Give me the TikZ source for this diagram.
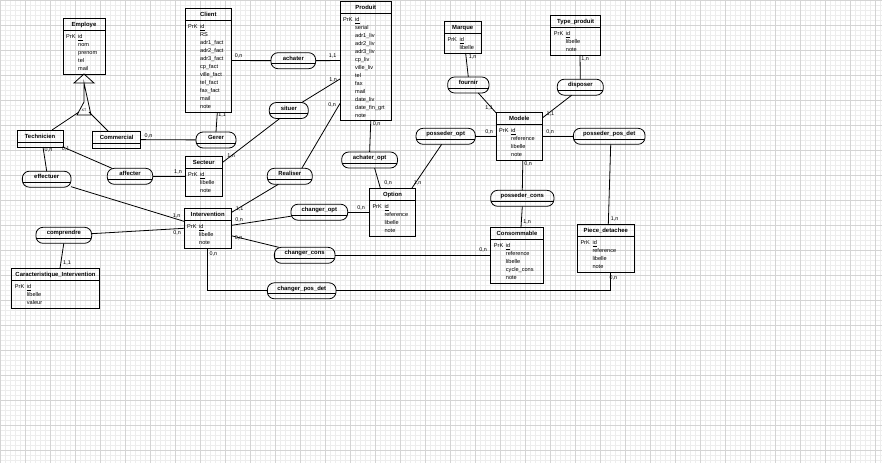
\documentclass[tikz,border=0pt]{standalone}
\usepackage{fontspec}
\setmainfont{Liberation Sans}
\usetikzlibrary{calc}

\begin{document}
\begin{tikzpicture}[x=1pt,y=-1pt,
  mineur/.style={gray!14,line width=0.4pt},
  majeur/.style={gray!34,line width=0.5pt},
  lien/.style={line width=0.8pt},
  entite/.style={draw,line width=0.8pt,inner sep=0,outer sep=0,
    path picture={\draw[line width=0.8pt] ([yshift=-12pt]path picture bounding box.north west) -- ([yshift=-12pt]path picture bounding box.north east);}},
  assoc/.style={draw,line width=0.8pt,rounded corners=7pt,inner sep=0,outer sep=0,minimum height=16,
    path picture={\draw[line width=0.8pt] ([yshift=-11pt]path picture bounding box.north west) -- ([yshift=-11pt]path picture bounding box.north east);}},
  titre/.style={label={[font=\bfseries\fontsize{5.9}{7}\selectfont,inner sep=0,anchor=base,yshift=-8.1pt]north:#1}},
  nomassoc/.style={label={[font=\bfseries\fontsize{5.9}{7}\selectfont,inner sep=0,anchor=base,yshift=-7.6pt]north:#1}},
  attr/.style={font=\fontsize{5.6}{8}\selectfont,align=left,anchor=north west,inner sep=0},
  card/.style={font=\fontsize{5.4}{6}\selectfont,inner sep=0}]
\useasboundingbox (0,0) rectangle (882,463);
% grille
\foreach \i in {0,5,...,880} \draw[mineur] (\i,0) -- (\i,463);
\foreach \j in {0,5,...,460} \draw[mineur] (0,\j) -- (882,\j);
\foreach \i in {0,25,...,875} \draw[majeur] (\i,0) -- (\i,463);
\foreach \j in {0,25,...,450} \draw[majeur] (0,\j) -- (882,\j);

% entites
\node[entite,titre=Employe,minimum width=42,minimum height=56] (employe) at (84,46) {};
\node[attr] (employe-cle) at ($(employe.north west)+(3,16)$) {PrK};
\node[attr] (employe-att) at ($(employe.north west)+(15,16)$) {\underline{id}\\nom\\prenom\\tel\\mail};
\node[entite,titre=Technicien,minimum width=46,minimum height=17] (technicien) at (40,138.5) {};
\node[entite,titre=Commercial,minimum width=48,minimum height=17] (commercial) at (116.7,139.5) {};
\node[entite,titre=Client,minimum width=46.7,minimum height=104] (client) at (208.3,60.5) {};
\node[attr] (client-cle) at ($(client.north west)+(3,16)$) {PrK};
\node[attr] (client-att) at ($(client.north west)+(15,16)$) {\underline{id}\\RS\\adr1\_fact\\adr2\_fact\\adr3\_fact\\cp\_fact\\ville\_fact\\tel\_fact\\fax\_fact\\mail\\note};
\node[entite,titre=Produit,minimum width=51.7,minimum height=119] (produit) at (365.8,60.5) {};
\node[attr] (produit-cle) at ($(produit.north west)+(3,16)$) {PrK};
\node[attr] (produit-att) at ($(produit.north west)+(15,16)$) {\underline{id}\\serial\\adr1\_liv\\adr2\_liv\\adr3\_liv\\cp\_liv\\ville\_liv\\tel\\fax\\mail\\date\_liv\\date\_fin\_grt\\note};
\node[entite,titre=Marque,minimum width=36.7,minimum height=32] (marque) at (462.7,37.5) {};
\node[attr] (marque-cle) at ($(marque.north west)+(3,16)$) {PrK};
\node[attr] (marque-att) at ($(marque.north west)+(15,16)$) {\underline{id}\\libelle};
\node[entite,titre=Type\_produit,minimum width=50,minimum height=40] (typeproduit) at (575.7,35) {};
\node[attr] (typeproduit-cle) at ($(typeproduit.north west)+(3,16)$) {PrK};
\node[attr] (typeproduit-att) at ($(typeproduit.north west)+(15,16)$) {\underline{id}\\libelle\\note};
\node[entite,titre=Modele,minimum width=46.7,minimum height=48] (modele) at (519.3,136.7) {};
\node[attr] (modele-cle) at ($(modele.north west)+(3,16)$) {PrK};
\node[attr] (modele-att) at ($(modele.north west)+(15,16)$) {\underline{id}\\reference\\libelle\\note};
\node[entite,titre=Secteur,minimum width=37.7,minimum height=40] (secteur) at (203.8,176.3) {};
\node[attr] (secteur-cle) at ($(secteur.north west)+(3,16)$) {PrK};
\node[attr] (secteur-att) at ($(secteur.north west)+(15,16)$) {\underline{id}\\libelle\\note};
\node[entite,titre=Intervention,minimum width=47.7,minimum height=40] (intervention) at (207.8,228.3) {};
\node[attr] (intervention-cle) at ($(intervention.north west)+(3,16)$) {PrK};
\node[attr] (intervention-att) at ($(intervention.north west)+(15,16)$) {\underline{id}\\libelle\\note};
\node[entite,titre=Option,minimum width=46.4,minimum height=48] (option) at (392.5,212.7) {};
\node[attr] (option-cle) at ($(option.north west)+(3,16)$) {PrK};
\node[attr] (option-att) at ($(option.north west)+(15,16)$) {\underline{id}\\reference\\libelle\\note};
\node[entite,titre=Consommable,minimum width=52.6,minimum height=56] (consommable) at (517,255.3) {};
\node[attr] (consommable-cle) at ($(consommable.north west)+(3,16)$) {PrK};
\node[attr] (consommable-att) at ($(consommable.north west)+(15,16)$) {\underline{id}\\reference\\libelle\\cycle\_cons\\note};
\node[entite,titre=Piece\_detachee,minimum width=57,minimum height=48] (piece) at (605.8,248.3) {};
\node[attr] (piece-cle) at ($(piece.north west)+(3,16)$) {PrK};
\node[attr] (piece-att) at ($(piece.north west)+(15,16)$) {\underline{id}\\reference\\libelle\\note};
\node[entite,titre=Caracteristique\_Intervention,minimum width=87.6,minimum height=40] (caracteristique) at (55.5,288.3) {};
\node[attr] (caracteristique-cle) at ($(caracteristique.north west)+(3,16)$) {PrK};
\node[attr] (caracteristique-att) at ($(caracteristique.north west)+(15,16)$) {\underline{id}\\libelle\\valeur};

% associations
\node[assoc,nomassoc=achater,minimum width=44.7] (achater) at (293.3,60.7) {};
\node[assoc,nomassoc=situer,minimum width=39] (situer) at (288.8,110.5) {};
\node[assoc,nomassoc=Gerer,minimum width=40] (gerer) at (216,140) {};
\node[assoc,nomassoc=achater\_opt,minimum width=55.8] (achateropt) at (369.6,160) {};
\node[assoc,nomassoc=Realiser,minimum width=45] (realiser) at (289.8,176.3) {};
\node[assoc,nomassoc=changer\_opt,minimum width=56.7] (changeropt) at (319.3,212.2) {};
\node[assoc,nomassoc=fournir,minimum width=41.3] (fournir) at (468.3,85) {};
\node[assoc,nomassoc=disposer,minimum width=46] (disposer) at (580.3,87.2) {};
\node[assoc,nomassoc=posseder\_opt,minimum width=59.3] (possederopt) at (445.7,136.3) {};
\node[assoc,nomassoc=posseder\_pos\_det,minimum width=71.7] (possederpos) at (609.2,136.3) {};
\node[assoc,nomassoc=posseder\_cons,minimum width=63.3] (possedercons) at (522.3,198.3) {};
\node[assoc,nomassoc=effectuer,minimum width=48.7] (effectuer) at (46.7,179.2) {};
\node[assoc,nomassoc=affecter,minimum width=45.4] (affecter) at (130,176.3) {};
\node[assoc,nomassoc=comprendre,minimum width=55.7] (comprendre) at (63.8,235.3) {};
\node[assoc,nomassoc=changer\_cons,minimum width=60.7] (changercons) at (304.7,255.3) {};
\node[assoc,nomassoc=changer\_pos\_det,minimum width=68.7] (changerpos) at (301.7,290.8) {};

% heritage
\draw[lien] (employe.south) -- ++(-10,9) -- ++(20,0) -- cycle;
\draw[lien] ($(employe.south)+(0,9)$) -- ++(0,19) coordinate (xt) -- ++(-7,13) -- ++(14,0) -- cycle;
\node[card,font=\fontsize{3.6}{4}\selectfont] (xt-texte) at ($(xt)+(0,8.5)$) {XT};
\draw[lien] ($(xt)+(-5,10)$) -- ([xshift=12pt]technicien.north);
\draw[lien] ($(xt)+(5,10)$) -- ([xshift=-8.7pt]commercial.north);

% liens
\draw[lien] (client) -- (achater);
\draw[lien] (achater) -- (produit);
\draw[lien] (situer) -- ([yshift=-18.5pt]produit.west);
\draw[lien] ([xshift=-9pt]situer.south) -- ([yshift=14pt]secteur.east);
\draw[lien] ([xshift=9pt]client.south) -- (gerer.north);
\draw[lien] (commercial) -- (gerer);
\draw[lien] ([xshift=3pt]technicien.south) -- (effectuer.north);
\draw[lien] (technicien.south east) -- ([xshift=-18pt]affecter.north);
\draw[lien] (affecter) -- (secteur);
\draw[lien] (effectuer) -- ([yshift=7pt]intervention.west);
\draw[lien] (comprendre) -- (intervention.west);
\draw[lien] (comprendre.south) -- ([xshift=4.5pt]caracteristique.north);
\draw[lien] ([xshift=-11.5pt]realiser.south) -- ([yshift=16pt]intervention.east);
\draw[lien] ([xshift=12pt]realiser.north) -- ([yshift=-43pt]produit.west);
\draw[lien] ([yshift=-4pt]changeropt.west) -- ([yshift=3pt]intervention.east);
\draw[lien] (changeropt) -- (option);
\draw[lien] ([xshift=-26pt]changercons.north) -- ([yshift=-7.5pt]intervention.east);
\draw[lien] (changercons) -- (consommable.west);
\draw[lien] (intervention.south) |- (changerpos.west);
\draw[lien] (changerpos.east) -| ([xshift=5pt]piece.south);
\draw[lien] ([xshift=5pt]produit.south) -- (achateropt.north);
\draw[lien] ([xshift=5pt]achateropt.south) -- ([xshift=-12pt]option.north);
\draw[lien] ([xshift=-4pt]possederopt.south) -- ([xshift=19pt]option.north);
\draw[lien] (possederopt) -- (modele);
\draw[lien] (modele) -- (possederpos);
\draw[lien] ([xshift=1.5pt]possederpos.south) -- ([xshift=2.5pt]piece.north);
\draw[lien] ([xshift=3.5pt]modele.south) -- (possedercons.north);
\draw[lien] (possedercons.south) -- ([xshift=4pt]consommable.north);
\draw[lien] ([xshift=3pt]marque.south) -- (fournir.north);
\draw[lien] ([xshift=10pt]fournir.south) -- (modele.north west);
\draw[lien] ([xshift=4.3pt]typeproduit.south) -- (disposer.north);
\draw[lien] ([xshift=-8.6pt]disposer.south) -- ([yshift=-5pt]modele.north east);

% cardinalites
\node[card] (k1) at (238.5,56) {0,n};
\node[card] (k2) at (332.5,56) {1,1};
\node[card] (k3) at (333,80) {1,n};
\node[card] (k4) at (332,105) {0,n};
\node[card] (k5) at (222,115) {1,1};
\node[card] (k6) at (148.5,136) {0,n};
\node[card] (k7) at (231,156) {1,n};
\node[card] (k8) at (48.5,150) {0,n};
\node[card] (k9) at (65.7,149) {0,1};
\node[card] (k10) at (178,172) {1,n};
\node[card] (k11) at (176.7,216) {1,n};
\node[card] (k12) at (177,232.7) {0,n};
\node[card] (k13) at (67,263) {1,1};
\node[card] (k14) at (239.5,209) {1,1};
\node[card] (k15) at (239,220) {0,n};
\node[card] (k16) at (238.7,237.7) {0,n};
\node[card] (k17) at (213.3,254) {0,n};
\node[card] (k18) at (361,207.7) {0,n};
\node[card] (k19) at (483,250) {0,n};
\node[card] (k20) at (613.3,277.7) {0,n};
\node[card] (k21) at (376.5,124) {0,n};
\node[card] (k22) at (388,182.7) {0,n};
\node[card] (k23) at (417.5,182.7) {1,n};
\node[card] (k24) at (489,132.3) {0,n};
\node[card] (k25) at (550,132.3) {0,n};
\node[card] (k26) at (614.5,219) {1,n};
\node[card] (k27) at (528,164) {0,n};
\node[card] (k28) at (527,221.7) {1,n};
\node[card] (k29) at (472.5,57.3) {1,n};
\node[card] (k30) at (489,108.3) {1,1};
\node[card] (k31) at (585,59) {1,n};
\node[card] (k32) at (550.3,114.3) {1,1};
\end{tikzpicture}
\end{document}
